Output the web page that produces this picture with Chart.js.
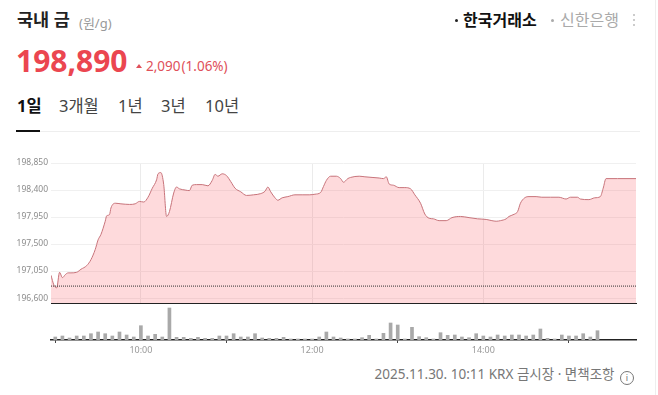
<!DOCTYPE html>
<html lang="ko">
<head>
<meta charset="utf-8">
<script src="https://cdn.jsdelivr.net/npm/chart.js@4.4.1/dist/chart.umd.min.js"></script>
<style>
  body { margin: 0; width: 658px; height: 395px; overflow: hidden; position: relative; background: #fff;
         font-family: "Noto Sans", "Noto Sans CJK KR", sans-serif; }
  .abs { position: absolute; white-space: nowrap; }
  .tab { top: 98px; font-size: 16.5px; line-height: 16.5px; color: #444; }
  .dot { position: absolute; border-radius: 50%; }
  canvas { position: absolute; left: 0; }
</style>
</head>
<body>
  <!-- 헤더 -->
  <div class="abs" style="left:17px;top:11px;font-size:17.5px;line-height:17.5px;font-weight:700;color:#222">국내 금</div>
  <div class="abs" style="left:79px;top:17px;font-size:13px;line-height:13px;color:#999">(원/g)</div>
  <div class="abs" style="left:16px;top:46px;font-size:30px;line-height:30px;font-weight:700;color:#eb4650">198,890</div>
  <div class="abs" style="left:136px;top:64px;width:0;height:0;border-left:3px solid transparent;border-right:3px solid transparent;border-bottom:4px solid #e0505a"></div>
  <div class="abs" style="left:146px;top:60px;font-size:13.5px;line-height:13.5px;color:#e0505a">2,090<span style="margin-left:1px">(1.06%)</span></div>

  <div class="dot" style="left:455px;top:19px;width:3px;height:3px;background:#222"></div>
  <div class="abs" style="left:463px;top:12px;font-size:16px;line-height:16px;font-weight:700;color:#111">한국거래소</div>
  <div class="dot" style="left:551px;top:19px;width:3px;height:3px;background:#aaa"></div>
  <div class="abs" style="left:560px;top:12px;font-size:16px;line-height:16px;color:#aaa">신한은행</div>
  <div class="dot" style="left:633px;top:14px;width:2px;height:2px;background:#bbb"></div>
  <div class="dot" style="left:633px;top:19px;width:2px;height:2px;background:#bbb"></div>
  <div class="dot" style="left:633px;top:24px;width:2px;height:2px;background:#bbb"></div>

  <!-- 기간 탭 -->
  <div class="abs tab" style="left:17px;font-weight:700;color:#111">1일</div>
  <div class="abs tab" style="left:59px">3개월</div>
  <div class="abs tab" style="left:118px">1년</div>
  <div class="abs tab" style="left:161px">3년</div>
  <div class="abs tab" style="left:205px">10년</div>
  <div class="abs" style="left:16px;top:131px;width:624px;height:1px;background:#eee"></div>
  <div class="abs" style="left:16px;top:130px;width:24px;height:2px;background:#111"></div>

  <canvas id="priceChart" width="658" height="169" style="top:142px"></canvas>
  <canvas id="volumeChart" width="658" height="60" style="top:300px"></canvas>

  <div class="abs" style="right:24px;top:368px;font-size:13.5px;line-height:13.5px;color:#777">2025.11.30. 10:11 KRX 금시장 · 면책조항
    <span style="display:inline-block;width:12px;height:12px;border:1px solid #777;border-radius:50%;font-size:9px;line-height:12px;text-align:center;vertical-align:-2px;margin-left:2px">i</span></div>
  <div class="abs" style="left:655px;top:0;width:1px;height:395px;background:#eee"></div>

<script>
// 가격 (원/g), 분 단위 시각
const priceTimes = [
  '08:57','08:59','09:01','09:03','09:05','09:07','09:09','09:11','09:15','09:18',
  '09:22','09:25','09:28','09:30','09:32','09:35','09:36','09:38','09:39','09:42',
  '09:46','09:52','09:56','09:59','10:02','10:05','10:08','10:11','10:12','10:14',
  '10:16','10:18','10:20','10:23','10:25','10:27','10:31','10:34','10:36','10:39',
  '10:43','10:47','10:50','10:52','10:54','10:57','11:00','11:03','11:06','11:10',
  '11:14','11:19','11:24','11:27','11:29','11:31','11:34','11:36','11:39','11:43',
  '11:48','11:53','11:58','12:02','12:06','12:08','12:10','12:13','12:17','12:20',
  '12:22','12:25','12:27','12:33','12:37','12:42','12:47','12:50','12:52','12:54',
  '12:57','13:01','13:05','13:09','13:12','13:16','13:19','13:22','13:25','13:29',
  '13:34','13:38','13:44','13:50','13:56','14:02','14:06','14:09','14:12','14:16',
  '14:18','14:22','14:24','14:26','14:29','14:32','14:37','14:41','14:47','14:53',
  '14:58','15:01','15:06','15:08','15:14','15:18','15:22','15:24','15:26','15:34',
  '15:47'
];
const priceValues = [
  196980,196820,196770,197030,196940,196990,197020,197020,197030,197080,
  197140,197240,197410,197570,197660,197880,197970,197990,198100,198180,
  198170,198160,198170,198210,198200,198280,198430,198570,198670,198690,
  198490,197960,198040,198350,198450,198420,198400,198390,198480,198490,
  198490,198470,198560,198660,198630,198670,198640,198540,198430,198370,
  198310,198320,198340,198380,198450,198370,198270,198230,198270,198290,
  198320,198320,198320,198330,198360,198460,198560,198630,198630,198590,
  198530,198590,198610,198630,198620,198610,198600,198590,198620,198500,
  198480,198440,198440,198420,198320,198180,198000,197930,197920,197890,
  197890,197940,197960,197940,197920,197910,197890,197880,197890,197920,
  197960,198000,198040,198180,198270,198290,198290,198280,198280,198280,
  198250,198280,198280,198250,198240,198270,198290,198430,198590,198590,
  198590
];
const prevClose = 196800;

// 5분 거래량
const volTimes = [
  '09:00','09:05','09:10','09:15','09:20','09:25','09:30','09:35','09:40','09:45','09:50','09:55',
  '10:00','10:05','10:10','10:15','10:20','10:25','10:30','10:35','10:40','10:45','10:50','10:55',
  '11:00','11:05','11:10','11:15','11:20','11:25','11:30','11:35','11:40','11:45','11:50','11:55',
  '12:00','12:05','12:10','12:15','12:20','12:25','12:30','12:35','12:40','12:45','12:50','12:55',
  '13:00','13:05','13:10','13:15','13:20','13:25','13:30','13:35','13:40','13:45','13:50','13:55',
  '14:00','14:05','14:10','14:15','14:20','14:25','14:30','14:35','14:40','14:45','14:50','14:55',
  '15:00','15:05','15:10','15:15','15:20'
];
const volValues = [
  30,40,20,40,40,63,80,63,40,80,50,30,
  143,40,57,30,320,27,27,17,27,17,17,40,
  40,63,30,30,63,20,17,17,27,10,10,10,
  10,30,80,30,20,10,10,23,47,10,67,170,
  150,10,127,33,23,10,73,47,50,30,23,63,
  40,30,50,40,50,50,40,50,110,17,10,50,
  40,40,63,30,93
];

const yTicks = [196600, 197050, 197500, 197950, 198400, 198850];
const xTicks = ['10:00', '12:00', '14:00'];
const xStart = '08:57';
const xEnd = '15:47';

function toMin(s) {
  const [h, m] = s.split(':').map(Number);
  return h * 60 + m;
}
function fmtTime(v) {
  return String(Math.floor(v / 60)).padStart(2, '0') + ':' + String(v % 60).padStart(2, '0');
}

const xMin = toMin(xStart);
const xMax = toMin(xEnd);
const tickFont = { family: 'Noto Sans', size: 8.5 };

// 가격 차트 (아래쪽 몇 px는 눈금 글자 여백으로 빠짐)
new Chart(document.getElementById('priceChart'), {
  type: 'line',
  data: {
    datasets: [{
      data: [{ x: xMin, y: prevClose }, { x: xMax, y: prevClose }],
      borderColor: '#333',
      borderWidth: 1,
      borderDash: [1, 1],
      pointRadius: 0,
      fill: false
    }, {
      data: priceTimes.map((t, i) => ({ x: toMin(t), y: priceValues[i] })),
      borderColor: '#c7737a',
      borderWidth: 1,
      backgroundColor: 'rgba(250, 70, 80, 0.2)',
      fill: 'start',
      pointRadius: 0,
      cubicInterpolationMode: 'monotone'
    }]
  },
  options: {
    responsive: false,
    animation: false,
    events: [],
    layout: { padding: { top: 21, right: 22, bottom: 0, left: 0 } },
    plugins: { legend: { display: false }, tooltip: { enabled: false } },
    scales: {
      x: {
        type: 'linear',
        min: xMin,
        max: xMax,
        afterBuildTicks: s => { s.ticks = xTicks.map(t => ({ value: toMin(t) })); },
        afterFit: s => { s.height = 0; },
        ticks: { display: false },
        grid: { color: '#ebebeb', drawTicks: false },
        border: { display: false }
      },
      y: {
        min: 196520,
        max: 198850,
        afterBuildTicks: s => { s.ticks = yTicks.map(v => ({ value: v })); },
        afterFit: s => { s.width = 51; },
        ticks: {
          padding: 3,
          color: '#8c8c8c',
          font: tickFont,
          callback: v => v.toLocaleString('en-US')
        },
        grid: { color: '#f0f0f0', drawTicks: false },
        border: { display: false }
      }
    }
  }
});

// 거래량 차트
new Chart(document.getElementById('volumeChart'), {
  type: 'bar',
  data: {
    datasets: [{
      data: volTimes.map((t, i) => ({ x: toMin(t), y: volValues[i] })),
      backgroundColor: '#a9a9a9',
      barThickness: 3
    }]
  },
  options: {
    responsive: false,
    animation: false,
    events: [],
    layout: { padding: { top: 3, right: 22, bottom: 0, left: 51 } },
    plugins: { legend: { display: false }, tooltip: { enabled: false } },
    scales: {
      x: {
        type: 'linear',
        position: 'bottom',
        offset: false,
        min: xMin,
        max: xMax,
        afterBuildTicks: s => { s.ticks = xTicks.map(t => ({ value: toMin(t) })); },
        afterFit: s => { s.height = 20; },
        ticks: { color: '#999', font: { family: 'Noto Sans', size: 9 }, padding: 2, maxRotation: 0, callback: v => fmtTime(v) },
        grid: { drawOnChartArea: false, tickLength: 3, color: '#444' },
        border: { color: '#222', width: 1.5 }
      },
      xTop: {
        type: 'linear',
        axis: 'x',
        position: 'top',
        offset: false,
        min: xMin,
        max: xMax,
        afterFit: s => { s.height = 0; },
        ticks: { display: false },
        grid: { display: false },
        border: { color: '#222', width: 1 }
      },
      y: {
        display: false,
        min: 0,
        max: 370
      }
    }
  }
});
</script>
</body>
</html>
